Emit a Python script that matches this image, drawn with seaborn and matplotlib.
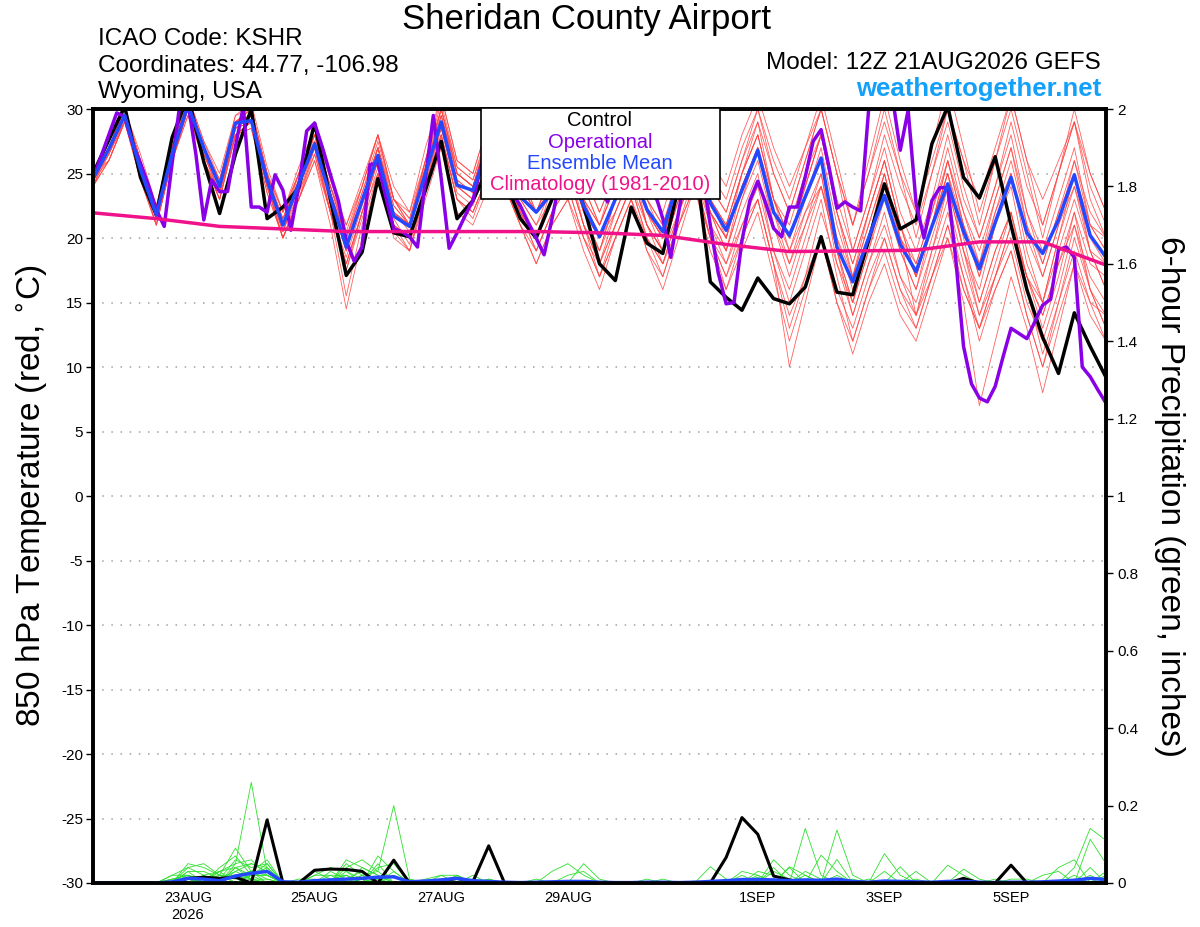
import numpy as np
import pandas as pd
import matplotlib
matplotlib.use('Agg')
import matplotlib.pyplot as plt
from matplotlib.patches import Rectangle
import seaborn as sns

# ---- data ----
# 6-hourly GEFS times, 3-hourly operational, daily climatology
times = pd.date_range('2026-08-21 12:00', periods=65, freq='6h')
op_times = pd.date_range('2026-08-21 12:00', periods=129, freq='3h')
clim_times = pd.date_range('2026-08-21 12:00', periods=17, freq='24h')

control_t = [25.0, 27.6, 30.2, 24.7, 21.8, 27.8, 31.0, 25.9, 21.9, 26.5,
             30.0, 21.5, 22.4, 23.9, 28.9, 23.0, 17.1, 18.9, 24.6, 20.4,
             20.1, 23.7, 27.5, 21.5, 22.9, 25.5, 24.5, 21.5, 20.0, 23.0,
             26.0, 22.5, 18.0, 16.7, 22.4, 19.6, 18.8, 24.0, 26.5, 16.6,
             15.4, 14.4, 16.9, 15.3, 14.9, 16.2, 20.1, 15.8, 15.6, 19.8,
             24.2, 20.7, 21.4, 27.3, 30.2, 24.7, 23.1, 26.3, 21.0, 16.0,
             12.3, 9.5, 14.2, 11.6, 9.2]

mean_t = [24.6, 26.9, 29.5, 25.3, 21.8, 26.5, 30.3, 27.0, 24.0, 28.9,
          29.1, 24.5, 21.0, 24.2, 27.3, 23.2, 19.3, 22.9, 26.4, 21.7,
          20.9, 25.0, 29.0, 24.1, 23.7, 27.0, 25.5, 23.2, 22.0, 23.5,
          25.5, 22.5, 20.1, 23.0, 25.5, 22.2, 20.5, 24.5, 26.5, 22.7,
          20.6, 23.7, 26.8, 22.0, 20.2, 23.2, 26.2, 19.3, 16.6, 20.0,
          23.3, 19.5, 17.4, 20.9, 24.2, 20.5, 17.6, 21.2, 24.7, 20.4,
          18.8, 21.4, 24.9, 20.2, 18.5]

oper_t = [24.6, 26.3, 28.0, 29.7, 29.4, 27.3, 25.8, 24.1, 22.2, 20.9,
          25.8, 30.5, 30.5, 26.5, 21.4, 24.5, 23.6, 23.6, 27.1, 30.2,
          22.4, 22.4, 22.0, 24.9, 23.7, 20.6, 24.0, 28.3, 28.9, 27.0,
          24.9, 22.9, 19.8, 18.2, 19.3, 25.7, 25.8, 23.2, 20.7, 20.5,
          20.1, 19.3, 24.5, 29.5, 24.6, 19.2, 20.4, 21.7, 22.9, 25.5,
          27.5, 27.0, 25.5, 23.5, 22.5, 21.2, 20.0, 18.7, 21.5, 24.5,
          26.5, 27.5, 27.0, 25.5, 24.0, 22.8, 24.5, 26.5, 27.5, 27.0,
          25.5, 23.5, 21.5, 18.5, 22.0, 25.5, 27.5, 25.0, 21.0, 17.3,
          14.9, 15.0, 19.8, 22.9, 24.4, 22.7, 20.75, 20.1, 22.4, 22.4,
          24.75, 27.5, 28.4, 25.5, 22.3, 22.8, 22.4, 22.1, 29.9, 31.5,
          32.0, 31.0, 26.8, 29.9, 22.7, 20.0, 22.9, 23.9, 23.9, 18.5,
          11.6, 8.7, 7.6, 7.3, 8.5, 10.8, 13.0, 12.6, 12.2, 13.5,
          14.8, 15.25, 19.1, 19.3, 18.5, 10.0, 9.25, 8.2, 7.2]

clim_t = [21.95, 21.5, 20.9, 20.7, 20.5, 20.5, 20.5, 20.5, 20.4, 20.2,
          19.5, 18.95, 19.0, 19.05, 19.7, 19.7, 17.9]

# ensemble members, 850 hPa temperature
t_m01 = [25, 27, 30, 26, 22, 27, 31, 27, 24, 29, 30, 25, 22, 25, 28, 24, 21, 24, 28, 23,
         22, 26, 31, 26, 25, 29, 31, 27, 24, 27, 30, 26, 23, 26, 29, 25, 23, 27, 31, 26,
         24, 28, 31, 27, 24, 27, 30, 25, 21, 25, 29, 25, 22, 26, 30, 26, 23, 27, 31, 26,
         23, 26, 29, 25, 22]
t_m02 = [25, 26, 29, 25, 21, 26, 30, 26, 23, 28, 29, 24, 20, 23, 27, 22, 18, 22, 25, 21,
         19, 24, 28, 23, 22, 25, 24, 21, 19, 22, 24, 20, 17, 20, 23, 20, 18, 22, 25, 20,
         17, 20, 23, 18, 10, 15, 20, 16, 13, 17, 20, 16, 13, 17, 21, 17, 12, 16, 19, 14,
         10, 14, 18, 14, 12]
t_m03 = [24, 27, 29, 25, 22, 27, 30, 27, 24, 29, 29, 24, 21, 24, 28, 23, 19, 23, 27, 22,
         21, 26, 30, 25, 24, 28, 27, 24, 22, 25, 27, 23, 21, 24, 26, 22, 20, 24, 27, 23,
         21, 25, 28, 23, 20, 24, 28, 22, 17, 21, 25, 20, 18, 22, 26, 21, 17, 22, 26, 21,
         18, 22, 26, 21, 19]
t_m04 = [24.5, 26.5, 29.5, 25, 21.5, 26, 30, 26.5, 23.5, 28.5, 29, 24, 20.5, 24, 27, 22.5,
         18, 22, 26, 21, 20, 24, 29, 24, 23, 27, 26, 23, 21, 23, 26, 22, 19, 23, 26, 21,
         19, 24, 27, 22, 19, 23, 26, 21, 18, 22, 25, 18, 14, 18, 21, 17, 15, 19, 23, 18,
         14, 18, 22, 17, 14, 18, 21, 16, 13]
t_m05 = [25, 27, 30, 26, 22, 27, 31, 27, 24, 29, 30, 25, 21, 25, 28, 24, 20, 23, 27, 23,
         21, 25, 30, 25, 24, 28, 29, 26, 23, 26, 28, 25, 22, 25, 28, 24, 22, 26, 29, 25,
         23, 27, 30, 25, 22, 26, 30, 25, 19, 23, 28, 24, 21, 25, 29, 24, 20, 24, 29, 24,
         21, 25, 30, 25, 22]
t_m06 = [24, 26, 29, 24.5, 21, 26, 29.5, 26, 23, 28, 28.5, 23.5, 20, 23, 26, 22,
         15.5, 21, 25, 20, 19, 23, 27, 22, 21, 24, 24, 21, 18, 21, 23, 19, 16, 20, 23, 19,
         17, 21, 24, 20, 18, 22, 25, 19, 15, 19, 23, 17, 12, 16, 20, 16, 14, 19, 24, 19,
         16, 21, 25, 20, 17, 21, 24, 19, 16]
t_m07 = [25, 27.5, 30, 26, 22.5, 27, 31, 27.5, 24.5, 29.5, 30, 25, 22, 25, 28, 23,
         19, 23, 27, 22, 21, 25, 29, 24, 23, 26, 27, 24, 22, 24, 26, 21, 18, 21, 24, 21,
         19, 23, 26, 22, 20, 24, 27, 22, 19, 22, 24, 19, 15, 19, 23, 19, 16, 20, 24, 19,
         15, 19, 22, 16, 11, 15, 19, 15, 14]
t_m08 = [24.5, 27, 29, 25.5, 22, 26.5, 30, 26.5, 24, 28.5, 29.5, 24.5, 21.5, 24.5, 27.5, 23.5,
         20, 23.5, 27, 22, 20.5, 25.5, 29.5, 24.5, 23.5, 27, 26, 23, 21, 24, 26, 22,
         20, 23, 25, 21, 19, 23, 26, 22, 19, 24, 27, 23, 21, 25, 28, 22, 18, 22, 26, 21,
         17, 21, 25, 20, 15, 19, 22, 17, 13, 17, 22, 18, 17]
t_m09 = [24, 27, 30, 25.5, 21.5, 26.5, 30.5, 27, 24, 29, 29.5, 24.5, 21, 24, 27.5, 23,
         19.5, 23, 26.5, 22, 21, 25, 29.5, 25, 24, 28, 28, 25, 22, 25, 28, 24,
         21, 25, 28, 23, 21, 25, 28, 24, 22, 26, 30, 26, 23, 27, 31, 26, 21, 26, 31, 26,
         22, 27, 32, 27, 22, 26, 31, 26, 21, 25, 29, 23, 20]
t_m10 = [24.5, 26, 29, 25, 21, 26, 30, 26, 23, 28, 29, 24, 20, 23.5, 27, 22,
         18, 22, 26, 21, 20, 24, 28, 23, 22, 25, 25, 22, 20, 23, 25, 21, 18, 22, 25, 21,
         19, 23, 26, 21, 18, 21, 23, 18, 14, 17, 20, 15, 11, 15, 18, 14, 12, 16, 20, 16,
         13, 17, 21, 17, 15, 19, 23, 19, 18]
t_m11 = [25, 27, 29.5, 25.5, 22, 27, 30.5, 27, 24.5, 29, 29.5, 25, 21, 24.5, 28, 24,
         20.5, 24, 28, 23, 21.5, 26, 30, 25.5, 24.5, 28, 27, 24, 22, 24, 25, 21,
         19, 22, 25, 22, 20, 24, 27, 23, 21, 25, 28, 23, 20, 23, 26, 20, 16, 20, 24, 20,
         17, 21, 25, 19, 14, 17, 20, 15, 12, 16, 21, 17, 15]
t_m12 = [24, 26.5, 29, 25, 21.5, 26, 29.5, 26.5, 23.5, 28, 29, 24, 20.5, 24, 27, 22,
         18.5, 22.5, 26, 21, 20, 24.5, 28.5, 24, 23, 26, 26, 22, 19, 22, 25, 21,
         17, 20, 23, 19, 16, 20, 24, 20, 17, 21, 24, 19, 16, 20, 24, 19, 15, 20, 25, 20,
         17, 21, 26, 21, 18, 23, 27, 22, 19, 23, 27, 21, 19]
t_m13 = [25, 27.5, 30, 26.5, 22.5, 27.5, 31, 27.5, 25, 29.5, 30.5, 25.5, 22, 25.5, 28.5, 24.5,
         21, 24.5, 28, 24, 22, 27, 31, 26, 25, 29, 29, 26, 23, 26, 29, 25,
         22, 25, 27, 23, 20, 24, 27, 23, 20, 24, 27, 21, 17, 21, 25, 19, 14, 18, 22, 17,
         14, 18, 22, 17, 13, 16, 19, 14, 10, 15, 20, 16, 14]
t_m14 = [24.5, 26.5, 29.5, 25.5, 21.5, 26.5, 30, 26, 23.5, 28.5, 29, 24.5, 21, 24, 27.5, 23,
         19, 23, 27, 22.5, 21, 25, 29, 24.5, 23.5, 27.5, 27.5, 25, 23, 26, 28, 24,
         21, 24, 27, 22, 19, 22, 25, 20, 16, 20, 23, 18, 13, 17, 22, 18, 15, 19, 24, 19,
         16, 21, 26, 22, 19, 23, 27, 21, 17, 21, 26, 22, 20]
t_m15 = [25, 27, 29.5, 25, 21.5, 26.5, 30, 26.5, 23.5, 28.5, 29.5, 24.5, 20.5, 23.5, 26.5, 22,
         17.5, 21.5, 25.5, 21, 20, 24, 28.5, 23.5, 22.5, 26, 25, 22, 19, 22, 24, 20,
         17, 21, 24, 20, 17, 21, 25, 21, 19, 23, 27, 22, 20, 24, 28, 23, 19, 23, 27, 22,
         19, 23, 28, 23, 20, 24, 28, 22, 18, 22, 25, 19, 16]
t_m16 = [24.5, 27, 30, 26, 22, 27, 30.5, 27, 24, 29, 30, 25, 21.5, 25, 28, 23.5,
         20, 24, 28, 23, 21.5, 25.5, 30, 25, 24, 28, 28, 25, 23, 25, 27, 23,
         20, 23, 26, 22, 20, 24, 28, 24, 22, 26, 29, 23, 19, 23, 27, 21, 17, 22, 26, 21,
         18, 22, 27, 22, 18, 22, 25, 19, 15, 20, 24, 20, 18]
t_m17 = [24, 26, 29, 24.5, 21, 26, 30, 26, 23, 28, 28.5, 23.5, 20, 23, 26.5, 22,
         17.5, 22, 26, 21.5, 19.5, 24, 28, 23, 22, 25, 25, 22, 20, 24, 26, 22,
         19, 23, 26, 22, 20, 24, 27, 22, 20, 24, 27, 22, 18, 21, 24, 20, 17, 21, 25, 20,
         14, 17, 20, 15, 7, 12, 17, 13, 8, 13, 18, 15, 12]
t_m18 = [25, 27, 30, 26, 22, 27, 30.5, 27, 24.5, 29, 29.5, 24.5, 21.5, 24.5, 27.5, 24,
         20, 23.5, 27.5, 23, 21, 26, 30.5, 25.5, 24.5, 28.5, 28, 25, 22, 24, 26, 22,
         20, 22, 25, 21, 18, 22, 26, 22, 20, 25, 29, 25, 22, 26, 30, 25, 21, 25, 30, 25,
         20, 25, 30, 26, 21, 26, 30, 25, 20, 25, 29, 24, 21]
t_m19 = [24.5, 26.5, 29, 25, 21.5, 26, 30, 26, 23.5, 28, 29, 24, 20, 23, 26, 21,
         14.5, 20, 25, 20.5, 19, 23.5, 28, 23, 21.5, 25, 24, 21, 18, 21, 23, 20,
         18, 21, 24, 20, 18, 21, 24, 19, 16, 19, 22, 17, 12, 16, 20, 15, 12, 16, 19, 15,
         13, 17, 21, 16, 13, 17, 21, 17, 14, 18, 22, 16, 13]
t_m20 = [25, 27, 29.5, 25.5, 22, 27, 30.5, 27, 24, 29, 29.5, 24.5, 21, 24.5, 27.5, 23.5,
         19.5, 23, 27, 22.5, 21, 25.5, 29.5, 25, 24, 27.5, 27, 24, 22, 25, 27, 23,
         21, 24, 27, 23, 21, 25, 28, 23, 21, 25, 28, 23, 20, 24, 28, 22, 18, 22, 26, 21,
         17, 21, 25, 21, 17, 21, 24, 18, 15, 20, 25, 21, 20]

# 6-hour precipitation (inches)
control_p = [0, 0, 0, 0, 0, 0, .012, .015, .012, .015, 0, .163, 0,
             0, .033, .036, .035, .03, 0, .059, 0, 0, .005, .012, .003, .096,
             0, 0, 0, 0, 0, .003, 0, 0, 0, 0, 0, 0, 0,
             0, .066, .169, .126, .018, .008, 0, 0, 0, 0, 0, 0, 0,
             0, 0, 0, .012, 0, 0, .046, 0, 0, 0, 0, 0, 0]
mean_p = [0, 0, 0, 0, 0, .003, .012, .01, .006, .018, .025, .03, .003,
          .002, .006, .008, .01, .012, .015, .016, .003, .005, .008, .012, .006, .004,
          .002, .001, .002, .003, .004, .004, .002, .001, .001, .002, .002, .001, .002,
          .004, .006, .009, .009, .008, .006, .008, .007, .01, .004, .002, .005, .004,
          .003, .002, .004, .004, .002, .001, .002, .002, .003, .005, .007, .012, .009]

Z13 = [0, 0, 0, 0, 0, 0, 0, 0, 0, 0, 0, 0, 0]
p_m01 = ([0, 0, 0, 0, 0, .01, .02, .01, .03, .05, .26, .03, 0]
         + [0, 0, .01, .02, 0, 0, 0, 0, 0, 0, .01, 0, 0] + Z13
         + [0, 0, 0, 0, 0, 0, 0, 0, .137, .02, 0, 0, 0]
         + [0, 0, 0, 0, 0, 0, 0, 0, 0, 0, 0, .02, 0])
p_m02 = ([0, 0, 0, 0, 0, 0, .04, .05, .02, .09, .03, .02, 0]
         + [0, 0, 0, 0, .02, .03, .2, .01, 0, 0, 0, .01, 0] + Z13
         + [0, 0, 0, 0, 0, 0, .141, .02, 0, 0, 0, 0, 0]
         + [0, 0, 0, 0, 0, 0, 0, 0, 0, 0, .04, .141, .11])
p_m03 = ([0, 0, 0, 0, 0, .02, .04, .02, 0, .03, .05, .04, 0]
         + [0, .02, .04, .03, 0, 0, 0, 0, 0, .02, .02, 0, 0] + Z13
         + [0, 0, 0, 0, .06, .02, 0, 0, 0, 0, 0, .076, .02] + Z13)
p_m04 = ([0, 0, 0, 0, 0, 0, .03, .03, .01, .06, .04, .05, 0]
         + [0, 0, 0, .06, .04, .02, 0, 0, 0, 0, 0, 0, .01] + Z13
         + [0, 0, .03, .02, 0, 0, 0, .072, .03, 0, 0, 0, 0] + Z13)
p_m05 = ([0, 0, 0, 0, 0, .01, .02, 0, .04, .07, .02, .02, 0]
         + [0, 0, 0, 0, 0, .07, .03, 0, 0, 0, 0, 0, 0]
         + [0, 0, 0, .03, .05, .02, 0, 0, 0, 0, 0, 0, 0] + Z13
         + [0, 0, .046, .02, 0, 0, 0, 0, 0, 0, 0, 0, 0])
p_m06 = ([0, 0, 0, 0, 0, 0, .05, .04, .02, .02, .03, .06, 0]
         + [0, 0, .03, .01, .03, 0, 0, 0, 0, 0, .02, 0, 0] + Z13
         + [.042, .01, 0, 0, 0, 0, 0, 0, 0, 0, 0, 0, 0]
         + [0, 0, 0, 0, 0, 0, 0, 0, 0, 0, 0, .113, .05])
p_m07 = ([0, 0, 0, 0, 0, 0, 0, .02, .03, .04, .05, .03, 0]
         + [0, .03, .01, 0, 0, 0, 0, 0, .01, .02, 0, 0, 0] + Z13
         + [0, 0, 0, 0, 0, .042, .02, 0, .061, 0, 0, 0, 0]
         + [0, 0, 0, 0, 0, 0, 0, 0, 0, .04, .06, 0, 0])
p_m08 = ([0, 0, 0, 0, 0, 0, .01, 0, 0, .02, .03, .01, 0]
         + [0, 0, 0, .04, .06, .03, 0, 0, 0, 0, 0, .01, 0]
         + [0, 0, 0, 0, 0, .05, .01, 0, 0, 0, .01, 0, 0] + Z13
         + [.03, 0, 0, 0, 0, 0, 0, 0, 0, 0, 0, 0, 0])
p_m09 = ([0, 0, 0, 0, 0, .02, .02, 0, .03, 0, .02, .02, 0]
         + [.01, .01, 0, 0, 0, .04, .05, 0, 0, 0, 0, 0, 0] + Z13
         + [0, 0, 0, .03, .02, 0, 0, 0, 0, 0, 0, 0, .042] + Z13)
p_m10 = ([0, 0, 0, 0, 0, 0, .015, .01, 0, .05, .06, .02, 0]
         + [0, 0, 0, 0, .02, 0, 0, 0, 0, .01, .015, 0, 0] + Z13
         + [0, 0, 0, .02, 0, .04, 0, 0, 0, 0, 0, 0, 0]
         + [0, 0, 0, .036, .01, 0, 0, 0, 0, 0, 0, 0, 0])
p_m11 = ([0, 0, 0, 0, 0, 0, 0, .01, .02, 0, .02, .04, 0]
         + [0, 0, .02, .02, 0, 0, 0, 0, 0, 0, 0, 0, .01] + Z13
         + [0, 0, 0, 0, 0, 0, .03, .01, 0, 0, 0, 0, 0]
         + [0, 0, 0, 0, 0, 0, .01, .01, 0, 0, .02, 0, 0])
p_m12 = ([0, 0, 0, 0, 0, 0, .02, 0, .01, .03, .01, 0, 0]
         + [0, 0, 0, .05, .02, 0, .02, 0, 0, 0, 0, 0, 0]
         + [0, 0, 0, 0, .02, .03, 0, 0, 0, 0, 0, 0, 0]
         + [0, 0, 0, 0, .04, 0, 0, 0, .02, 0, 0, 0, 0] + Z13)
p_m13 = ([0, 0, 0, 0, 0, 0, .03, 0, 0, .04, .02, .05, 0]
         + [0, 0, 0, 0, 0, .05, 0, 0, 0, 0, .01, 0, 0]
         + [0, 0, 0, 0, 0, 0, 0, 0, 0, .01, 0, 0, 0]
         + [0, 0, .02, 0, 0, 0, 0, 0, 0, 0, 0, .03, 0]
         + [0, 0, 0, 0, 0, 0, 0, 0, 0, 0, 0, 0, .03])
p_m14 = ([0, 0, 0, 0, 0, 0, 0, .02, 0, .02, .03, 0, 0]
         + [0, .02, .02, 0, 0, 0, 0, .01, 0, 0, 0, 0, 0] + Z13
         + [0, 0, 0, 0, .03, .01, 0, 0, 0, 0, 0, 0, 0]
         + [0, 0, 0, 0, 0, 0, 0, 0, 0, 0, 0, .04, 0])
p_m15 = ([0, 0, 0, 0, 0, .01, .01, 0, 0, 0, .02, .03, 0]
         + [0, 0, 0, .03, .01, 0, 0, 0, 0, 0, 0, .02, 0] + Z13
         + [0, 0, 0, .015, 0, 0, .02, 0, 0, 0, 0, 0, 0]
         + [0, 0, 0, .01, 0, 0, 0, 0, 0, 0, 0, 0, 0])
p_m16 = ([0, 0, 0, 0, 0, 0, 0, 0, .02, .01, .02, 0, 0]
         + [0, 0, 0, 0, .04, .02, 0, 0, 0, .01, 0, 0, 0] + Z13
         + [0, 0, 0, 0, 0, 0, 0, .01, 0, 0, 0, 0, 0]
         + [.01, 0, 0, 0, 0, 0, 0, 0, .02, .03, 0, 0, 0])
p_m17 = ([0, 0, 0, 0, 0, 0, .01, 0, 0, .04, .01, .01, 0]
         + [0, 0, .01, 0, 0, 0, .03, 0, 0, 0, 0, 0, 0] + Z13
         + [0, 0, .01, 0, 0, 0, 0, 0, 0, .01, 0, 0, 0] + Z13)
p_m18 = ([0, 0, 0, 0, 0, 0, 0, .015, 0, 0, .01, 0, 0]
         + [0, 0, 0, 0, 0, .01, 0, 0, 0, 0, .02, 0, 0] + Z13
         + [0, .01, 0, 0, 0, 0, 0, 0, 0, 0, .01, 0, 0]
         + [0, 0, 0, 0, 0, 0, 0, 0, 0, 0, .01, 0, 0])
p_m19 = ([0, 0, 0, 0, 0, 0, 0, 0, 0, .02, .01, 0, 0]
         + [0, 0, 0, .02, 0, 0, 0, 0, 0, 0, 0, 0, 0]
         + [0, 0, 0, 0, 0, 0, 0, 0, 0, 0, 0, 0, .005]
         + [0, 0, 0, 0, .01, 0, 0, 0, 0, 0, 0, 0, 0]
         + [0, 0, 0, 0, 0, .01, 0, 0, 0, 0, 0, 0, 0])
p_m20 = ([0, 0, 0, 0, 0, 0, .01, 0, 0, 0, .01, 0, 0]
         + [0, 0, 0, 0, .01, 0, 0, 0, 0, 0, 0, 0, 0]
         + [0, 0, .01, 0, 0, 0, 0, 0, 0, 0, 0, 0, 0]
         + [0, 0, 0, 0, 0, .01, 0, 0, 0, 0, 0, 0, 0]
         + [0, 0, 0, 0, 0, 0, 0, 0, 0, 0, 0, 0, .02])

tick_dates = pd.to_datetime(['2026-08-23', '2026-08-25', '2026-08-27', '2026-08-29',
                             '2026-09-01', '2026-09-03', '2026-09-05'])
tick_labels = ['23AUG\n2026', '25AUG', '27AUG', '29AUG', '1SEP', '3SEP', '5SEP']
left_ticks = [-30, -25, -20, -15, -10, -5, 0, 5, 10, 15, 20, 25, 30]
right_ticks = [0, 0.2, 0.4, 0.6, 0.8, 1, 1.2, 1.4, 1.6, 1.8, 2]

temp_members = [t_m01, t_m02, t_m03, t_m04, t_m05, t_m06, t_m07, t_m08, t_m09, t_m10,
                t_m11, t_m12, t_m13, t_m14, t_m15, t_m16, t_m17, t_m18, t_m19, t_m20]
precip_members = [p_m01, p_m02, p_m03, p_m04, p_m05, p_m06, p_m07, p_m08, p_m09, p_m10,
                  p_m11, p_m12, p_m13, p_m14, p_m15, p_m16, p_m17, p_m18, p_m19, p_m20]

# long tables for seaborn
df_t = pd.concat([pd.DataFrame({'time': times, 'val': m, 'member': k})
                  for k, m in enumerate(temp_members)])
df_p = pd.concat([pd.DataFrame({'time': times, 'val': m, 'member': k})
                  for k, m in enumerate(precip_members)])

# ---- style ----
sns.set_style('white')
plt.rcParams['font.family'] = ['Liberation Sans', 'DejaVu Sans']
plt.rcParams['axes.unicode_minus'] = False
plt.rcParams['text.color'] = 'black'
plt.rcParams['xtick.color'] = 'black'
plt.rcParams['ytick.color'] = 'black'
plt.rcParams['xtick.labelcolor'] = 'black'
plt.rcParams['ytick.labelcolor'] = 'black'

fig = plt.figure(figsize=(12, 9.27), dpi=100)
ax = fig.add_axes([93/1200, 1 - 883/927, 1013/1200, 774/927])

RED = '#FF4545'
GREEN = '#2EE02E'
PURPLE = '#8A00E6'
BLUE = '#2448FF'
PINK = '#F0128A'

sns.lineplot(data=df_t, x='time', y='val', units='member', estimator=None,
             color=RED, lw=0.6, alpha=0.85, ax=ax, legend=False)
sns.lineplot(x=times, y=control_t, color='black', lw=2.5, ax=ax)
sns.lineplot(x=op_times, y=oper_t, color=PURPLE, lw=2.5, ax=ax)
sns.lineplot(x=times, y=mean_t, color=BLUE, lw=2.5, ax=ax)
sns.lineplot(x=clim_times, y=clim_t, color=PINK, lw=2.5, ax=ax)

ax.set_xlim(times[0], times[-1])
ax.set_ylim(-30, 30)
ax.set_yticks(left_ticks)
ax.set_yticklabels([str(v) for v in left_ticks])
ax.set_xticks(tick_dates)
ax.set_xticklabels(tick_labels)
ax.set_xlabel('')
ax.set_ylabel('')
ax.yaxis.grid(True, linestyle=(0, (1, 5)), color='#A0A0A0', lw=1.1)
ax.xaxis.grid(False)
ax.set_axisbelow(True)
ax.tick_params(axis='y', which='both', direction='out', length=5, width=1,
               labelsize=11, pad=2, left=True)
ax.tick_params(axis='x', direction='out', length=0, labelsize=10.5, pad=6)

ax2 = ax.twinx()
sns.lineplot(data=df_p, x='time', y='val', units='member', estimator=None,
             color=GREEN, lw=0.6, ax=ax2, legend=False)
sns.lineplot(x=times, y=control_p, color='black', lw=2.2, ax=ax2)
sns.lineplot(x=times, y=mean_p, color=BLUE, lw=2.5, ax=ax2)
ax2.set_ylim(0, 2)
ax2.set_xlim(times[0], times[-1])
ax2.set_yticks(right_ticks)
ax2.set_yticklabels([f'{v:g}' for v in right_ticks])
ax2.set_ylabel('')
ax2.set_xlabel('')
ax2.tick_params(axis='y', direction='out', length=5, width=1, labelsize=11,
                pad=3, right=True)

for a in (ax, ax2):
    for s in a.spines.values():
        s.set_color('black')
        s.set_linewidth(2.6)
        s.set_visible(True)

# ---- header texts ----
fig.text(586/1200, 1 - 19/927, 'Sheridan County Airport', ha='center', va='center',
         fontsize=25)
fig.text(98/1200, 1 - 39/927, 'ICAO Code: KSHR', ha='left', va='center', fontsize=17.5)
fig.text(98/1200, 1 - 66/927, 'Coordinates: 44.77, -106.98', ha='left', va='center',
         fontsize=17.5)
fig.text(98/1200, 1 - 92/927, 'Wyoming, USA', ha='left', va='center', fontsize=17.5)
fig.text(1101/1200, 1 - 63/927, 'Model: 12Z 21AUG2026 GEFS', ha='right', va='center',
         fontsize=17.5)
fig.text(1101/1200, 1 - 89/927, 'weathertogether.net', ha='right', va='center',
         fontsize=18.5, fontweight='bold', color='#12A0FA')

fig.text(32/1200, 1 - 496/927, '850 hPa Temperature (red, $^{\\circ}$C)', rotation=90,
         ha='center', va='center', fontsize=24)
fig.text(1170/1200, 1 - 496/927, '6-hour Precipitation (green, inches)', rotation=-90,
         ha='center', va='center', fontsize=24)

# ---- legend box ----
fig.add_artist(Rectangle((481/1200, 1 - 199/927), 239/1200, 91/927,
                         transform=fig.transFigure, facecolor='white',
                         edgecolor='black', lw=1.2, zorder=10))
legend_items = [('Control', 'black'), ('Operational', PURPLE),
                ('Ensemble Mean', BLUE), ('Climatology (1981-2010)', PINK)]
for k, (txt, col) in enumerate(legend_items):
    fig.text(600/1200, 1 - (121 + 21.3*k)/927, txt, color=col, ha='center',
             va='center', fontsize=14.5, zorder=11)

fig.savefig('out.png', dpi=100)
